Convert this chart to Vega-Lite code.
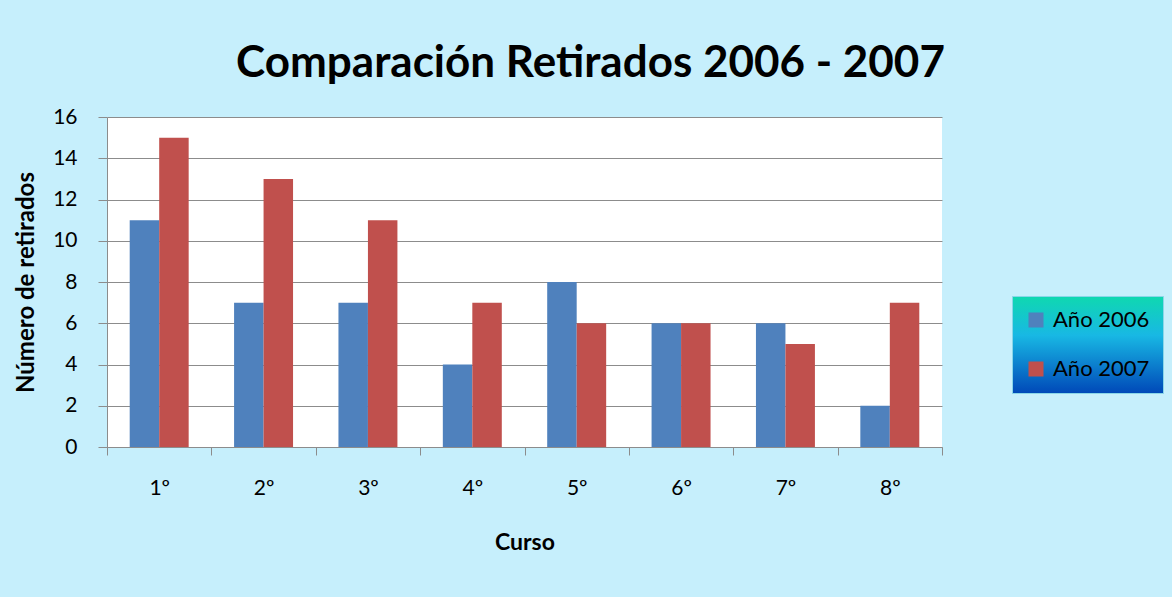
{
  "$schema": "https://vega.github.io/schema/vega-lite/v6.json",
  "autosize": {"type": "none"},
  "width": 835,
  "height": 330,
  "padding": {"left": 107, "top": 117, "right": 230, "bottom": 150},
  "background": "#c6effc",
  "title": {
    "text": "Comparación Retirados 2006 - 2007",
    "font": "Lato",
    "fontSize": 44,
    "fontWeight": "bold",
    "color": "black",
    "anchor": "middle",
    "dx": 66,
    "baseline": "alphabetic",
    "offset": -15
  },
  "data": {
    "values": [
      {"curso": "1º", "anio": "Año 2006", "valor": 11},
      {"curso": "1º", "anio": "Año 2007", "valor": 15},
      {"curso": "2º", "anio": "Año 2006", "valor": 7},
      {"curso": "2º", "anio": "Año 2007", "valor": 13},
      {"curso": "3º", "anio": "Año 2006", "valor": 7},
      {"curso": "3º", "anio": "Año 2007", "valor": 11},
      {"curso": "4º", "anio": "Año 2006", "valor": 4},
      {"curso": "4º", "anio": "Año 2007", "valor": 7},
      {"curso": "5º", "anio": "Año 2006", "valor": 8},
      {"curso": "5º", "anio": "Año 2007", "valor": 6},
      {"curso": "6º", "anio": "Año 2006", "valor": 6},
      {"curso": "6º", "anio": "Año 2007", "valor": 6},
      {"curso": "7º", "anio": "Año 2006", "valor": 6},
      {"curso": "7º", "anio": "Año 2007", "valor": 5},
      {"curso": "8º", "anio": "Año 2006", "valor": 2},
      {"curso": "8º", "anio": "Año 2007", "valor": 7}
    ]
  },
  "mark": {"type": "bar"},
  "encoding": {
    "x": {
      "field": "curso",
      "type": "nominal",
      "scale": {"paddingInner": 0, "paddingOuter": 0},
      "axis": {
        "title": "Curso",
        "labelAngle": 0,
        "labelFont": "Lato",
        "labelFontSize": 21,
        "labelColor": "black",
        "labelPadding": 22,
        "tickBand": "extent",
        "tickSize": 8,
        "tickColor": "#8c8c8c",
        "domainColor": "#8c8c8c",
        "titleFont": "Lato",
        "titleFontSize": 23,
        "titleFontWeight": "bold",
        "titleColor": "black",
        "titlePadding": 33
      }
    },
    "xOffset": {
      "field": "anio",
      "type": "nominal",
      "scale": {"paddingInner": 0, "paddingOuter": 0.77}
    },
    "y": {
      "field": "valor",
      "type": "quantitative",
      "scale": {"domain": [0, 16]},
      "axis": {
        "title": "Número de retirados",
        "values": [0, 2, 4, 6, 8, 10, 12, 14, 16],
        "labelFont": "Lato",
        "labelFontSize": 21,
        "labelColor": "black",
        "labelPadding": 21,
        "tickSize": 9,
        "tickColor": "#8c8c8c",
        "domainColor": "#8c8c8c",
        "gridColor": "#8c8c8c",
        "titleFont": "Lato",
        "titleFontSize": 24,
        "titleFontWeight": "bold",
        "titleColor": "black",
        "titlePadding": 14
      }
    },
    "color": {
      "field": "anio",
      "type": "nominal",
      "scale": {"domain": ["Año 2006", "Año 2007"], "range": ["#4f81bd", "#c0504d"]},
      "legend": {
        "title": null,
        "orient": "none",
        "legendX": 905,
        "legendY": 179,
        "symbolType": "square",
        "symbolSize": 225,
        "symbolStrokeWidth": 0,
        "labelFont": "Lato",
        "labelFontSize": 22,
        "labelColor": "black",
        "labelOffset": 6,
        "rowPadding": 27,
        "padding": 13,
        "strokeColor": "#8ad6e8",
        "encode": {
          "legend": {
            "update": {
              "fill": {
                "value": {
                  "gradient": "linear",
                  "x1": 0, "y1": 0, "x2": 0, "y2": 1,
                  "stops": [
                    {"offset": 0, "color": "#0fd8b0"},
                    {"offset": 0.4, "color": "#18b8e4"},
                    {"offset": 1, "color": "#0048b8"}
                  ]
                }
              }
            }
          }
        }
      }
    }
  },
  "config": {
    "view": {"fill": "white", "stroke": null},
    "axis": {"gridWidth": 1, "domainWidth": 1, "tickWidth": 1}
  }
}
